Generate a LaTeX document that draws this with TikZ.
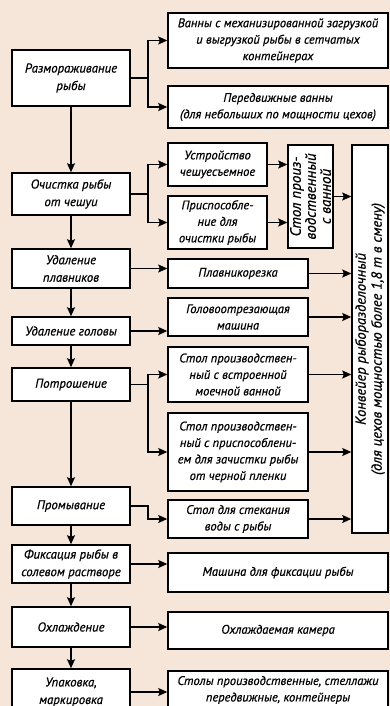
\documentclass[tikz,border=0pt]{standalone}
\usepackage{fontspec}
\setmainfont{PT Sans}[ItalicFeatures={FakeBold=0.6}]
\usepackage{xcolor}
\usetikzlibrary{arrows.meta, positioning}
\definecolor{paper}{HTML}{F6E6D9}

\begin{document}
\begin{tikzpicture}[
    x=1pt, y=-1pt,
    >={Stealth[length=9pt, width=8pt, inset=1.5pt]},
    stage/.style={draw=black, line width=1.5pt, fill=white, minimum width=118pt, inner sep=2pt,
                  align=center, font=\itshape\fontsize{12.8}{17.5}\selectfont},
    device/.style={draw=black, line width=1.5pt, fill=white, inner sep=2pt,
                   align=center, font=\itshape\fontsize{12.5}{16.5}\selectfont},
    upright/.style={device, rotate=90},
    flow/.style={->, line width=1.3pt}
]
\useasboundingbox (0,0) rectangle (390,706);
\fill[paper] (0,0) rectangle (390,706);

% --- process stages (left column) ---
\node[stage, minimum height=56pt] (thaw)  at (71,78)    {Размораживание\\рыбы};
\node[stage, minimum height=42pt] (scale) at (71,194)   {Очистка рыбы\\от чешуи};
\node[stage, minimum height=39pt] (fins)  at (71,268.5) {Удаление\\плавников};
\node[stage, minimum height=28pt] (head)  at (71,331)   {Удаление головы};
\node[stage, minimum height=33pt] (gut)   at (71,384.5) {Потрошение};
\node[stage, minimum height=38pt] (wash)  at (71,506)   {Промывание};
\node[stage, minimum height=38pt] (fix)   at (71,564)   {Фиксация рыбы в\\солевом растворе};
\node[stage, minimum height=40pt] (cool)  at (71,627)   {Охлаждение};
\node[stage, minimum height=46pt] (pack)  at (71,692)   {Упаковка,\\маркировка};

% branch line x position
\coordinate (bus) at (148,0);

% --- equipment (right side) ---
\node[device, minimum width=220pt, minimum height=55pt] (bath1) at (278,40.5)
    {Ванны с механизированной загрузкой\\и выгрузкой рыбы в сетчатых\\контейнерах};
\node[device, minimum width=220pt, minimum height=42pt] (bath2) at (278,107)
    {Передвижные ванны\\(для небольших по мощности цехов)};

\node[device, minimum width=99pt, minimum height=43pt] (descaler)  at (217.5,164.5) {Устройство\\чешуесъемное};
\node[device, minimum width=99pt, minimum height=53pt] (scaletool) at (217.5,222.5) {Приспособле-\\ние для\\очистки рыбы};
% vertical table
\node[upright, minimum width=103pt, minimum height=45pt, font=\itshape\fontsize{15}{15}\selectfont]
    (tablebath) at (310.5,196.5) {Стол произ-\\водственный\\с ванной};

\node[device, minimum width=140pt, minimum height=29pt] (fincut)  at (238,273.5) {Плавникорезка};
\node[device, minimum width=140pt, minimum height=38pt] (headcut) at (238,317)   {Головоотрезающая\\машина};
\node[device, minimum width=140pt, minimum height=55pt] (table1)  at (238,374.5)
    {Стол производствен-\\ный с встроенной\\моечной ванной};
\node[device, minimum width=140pt, minimum height=78pt] (table2)  at (238,452)
    {Стол производствен-\\ный с приспособлени-\\ем для зачистки рыбы\\от черной пленки};
\node[device, minimum width=140pt, minimum height=38pt] (table3)  at (238,519)   {Стол для стекания\\воды с рыбы};

% conveyor (tall box)
\node[upright, minimum width=388pt, minimum height=36pt, font=\itshape\fontsize{14.5}{16}\selectfont]
    (conveyor) at (370,339)
    {Конвейер рыборазделочный\\(для цехов мощностью более 1,8 т в смену)};

\node[device, minimum width=220pt, minimum height=39pt] (fixer)   at (278,572.5) {Машина для фиксации рыбы};
\node[device, minimum width=220pt, minimum height=37pt] (chamber) at (278,630.5) {Охлаждаемая камера};
\node[device, minimum width=220pt, minimum height=38pt] (racks)   at (278,690)
    {Столы производственные, стеллажи\\передвижные, контейнеры};

% --- main flow down the left column ---
\draw[flow] (thaw) -- (scale);
\draw[flow] (scale) -- (fins);
\draw[flow] (fins) -- (head);
\draw[flow] (head) -- (gut);
\draw[flow] (gut) -- (wash);
\draw[flow] (wash) -- (fix);
\draw[flow] (fix) -- (cool);
\draw[flow] (cool) -- (pack);

% --- branches to equipment ---
% thawing
\draw[flow] (thaw.east) -- (thaw.east -| bus) |- (bath1.west);
\draw[flow] (thaw.east -| bus) |- (bath2.west);
% scaling
\draw[flow] (scale.east) -- (scale.east -| bus) |- (descaler.west);
\draw[flow] (scale.east -| bus) |- (scaletool.west);
\draw[flow] (descaler.east) -- (descaler.east -| tablebath.north);
\draw[flow] (scaletool.east) -- (scaletool.east -| tablebath.north);
% fins, head
\draw[flow] (fins.east) -- (fins.east -| fincut.west);
\draw[flow] (head.east) -- (head.east -| headcut.west);
% gutting
\draw[flow] (gut.east) -- (gut.east -| bus) |- (table1.west);
\draw[flow] (gut.east -| bus) |- (table2.west);
% washing
\draw[flow] (wash.east) -- (wash.east -| bus) |- (table3.west);

% into the conveyor
\draw[flow] (tablebath.south) -- (tablebath.south -| conveyor.north);
\draw[flow] (fincut.east) -- (fincut.east -| conveyor.north);
\draw[flow] (headcut.east) -- (headcut.east -| conveyor.north);
\draw[flow] (table1.east) -- (table1.east -| conveyor.north);
\draw[flow] (table2.east) -- (table2.east -| conveyor.north);
\draw[flow] (table3.east) -- (table3.east -| conveyor.north);

% lower stages
\draw[flow] (fix.east) -- (fix.east -| fixer.west);
\draw[flow] (cool.east) -- (cool.east -| chamber.west);
\draw[flow] (pack.east) -- (pack.east -| racks.west);

\end{tikzpicture}
\end{document}
